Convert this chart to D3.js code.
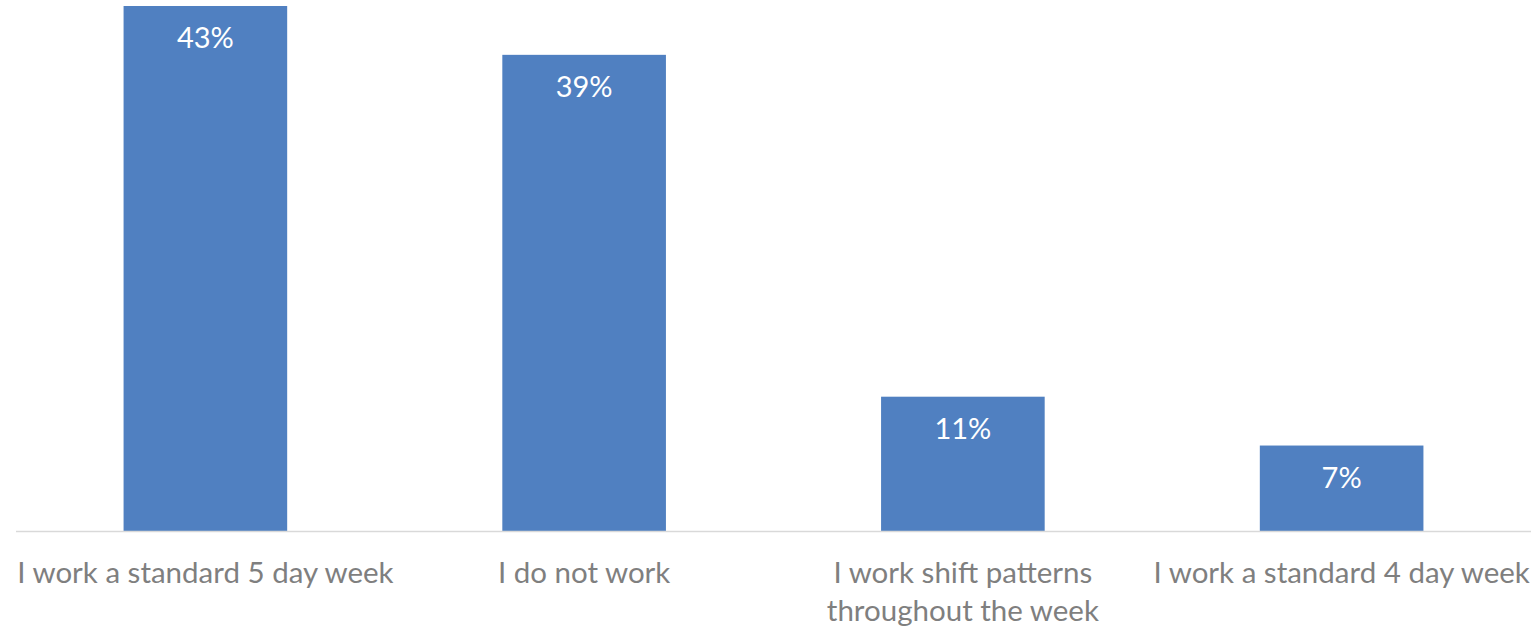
<!DOCTYPE html>
<html>
<head>
<meta charset="utf-8">
<script src="https://cdn.jsdelivr.net/npm/d3@7"></script>
<style>
  html, body { margin: 0; padding: 0; background: #ffffff; }
  svg { display: block; }
</style>
</head>
<body>
<svg id="chart" width="1534" height="629"></svg>
<script>
// Working pattern categories and share of respondents
const categories = [
  ["I work a standard 5 day week"],
  ["I do not work"],
  ["I work shift patterns", "throughout the week"],
  ["I work a standard 4 day week"]
];
const values = [0.43, 0.39, 0.11, 0.07];

const width = 1534, height = 629;
const plot = { left: 16, right: 1531, top: 6, bottom: 531 };
const fontFamily = "Lato, 'Open Sans', 'DejaVu Sans', sans-serif";

const svg = d3.select("#chart");

const x = d3.scaleBand()
  .domain(d3.range(categories.length))
  .range([plot.left, plot.right])
  .paddingInner(0.568)
  .paddingOuter(0.284);

const y = d3.scaleLinear()
  .domain([0, 0.43])
  .range([plot.bottom, plot.top]);

// Bars
svg.append("g")
  .selectAll("rect")
  .data(values)
  .join("rect")
  .attr("x", (d, i) => x(i))
  .attr("y", d => y(d))
  .attr("width", x.bandwidth())
  .attr("height", d => y(0) - y(d))
  .attr("fill", "#5080c1");

// Category axis line
svg.append("line")
  .attr("x1", plot.left)
  .attr("x2", plot.right)
  .attr("y1", plot.bottom + 0.5)
  .attr("y2", plot.bottom + 0.5)
  .attr("stroke", "#d9d9d9")
  .attr("stroke-width", 1.5);

// Value labels inside the top of each bar
svg.append("g")
  .selectAll("text")
  .data(values)
  .join("text")
  .attr("x", (d, i) => x(i) + x.bandwidth() / 2)
  .attr("y", d => y(d) + 42)
  .attr("text-anchor", "middle")
  .attr("fill", "#ffffff")
  .style("font-family", fontFamily)
  .style("font-size", "29px")
  .text(d => d3.format(".0%")(d));

// Category labels beneath the axis
const labels = svg.append("g")
  .selectAll("text")
  .data(categories)
  .join("text")
  .attr("x", (d, i) => x(i) + x.bandwidth() / 2)
  .attr("y", 583)
  .attr("text-anchor", "middle")
  .attr("fill", "#7f7f7f")
  .style("font-family", fontFamily)
  .style("font-size", "29.5px");

labels.selectAll("tspan")
  .data(d => d)
  .join("tspan")
  .attr("x", function () { return this.parentNode.getAttribute("x"); })
  .attr("dy", (d, i) => i === 0 ? 0 : 38)
  .text(d => d);
</script>
</body>
</html>
